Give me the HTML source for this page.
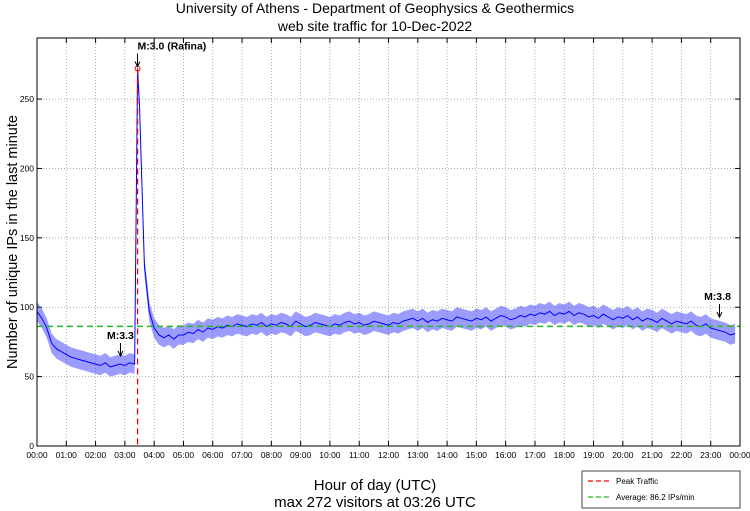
<!DOCTYPE html>
<html><head><meta charset="utf-8"><style>
body{margin:0;background:#fff;width:750px;height:511px;overflow:hidden;font-family:"Liberation Sans",sans-serif}
svg{display:block}
</style></head><body>
<svg id="c" width="750" height="511" font-family="Liberation Sans, sans-serif"></svg>
<script>
const hourLabels=["00:00","01:00","02:00","03:00","04:00","05:00","06:00","07:00","08:00","09:00","10:00","11:00","12:00","13:00","14:00","15:00","16:00","17:00","18:00","19:00","20:00","21:00","22:00","23:00","00:00"];
const yTicks=[0,50,100,150,200,250];
// visitors per 10-minute step starting 00:00 (6 per hour)
const visitors=[
97,92,85,74,70,68,
66,64,63,62,61,60,
59,58,60,57,58,59,
58,60,59,245,130,97,
85,80,78,80,77,80,
80,82,81,84,82,85,
84,86,85,87,86,88,
87,86,88,87,89,86,
88,87,89,88,86,90,
88,86,87,89,88,87,
86,88,87,89,90,88,
89,87,88,90,89,88,
87,89,88,90,91,92,
90,92,89,91,90,92,
91,90,93,92,91,90,
92,91,93,90,92,94,
93,91,92,94,93,95,
94,96,95,97,94,96,
95,97,94,96,95,93,
94,92,95,93,91,93,
92,94,91,93,90,92,
91,89,92,90,88,90,
89,88,90,87,86,88,
85,84,83,82,80,81];
const peakHour=[3+26/60], peakValue=[272];
const averageValue=[86.2];
const events=[{label:"M:3.0 (Rafina)",h:3.43,v:272},{label:"M:3.3",h:2.85,v:62},{label:"M:3.8",h:23.3,v:90}];

const L=37,R=740,T=38,B=446,YMAX=294;
const xs=h=>L+(R-L)*h/24, ys=v=>B-(B-T)*v/YMAX;
const svg=document.getElementById('c');const NS="http://www.w3.org/2000/svg";
function mk(t,a,p){const e=document.createElementNS(NS,t);for(const k in a)e.setAttribute(k,a[k]);(p||svg).appendChild(e);return e;}
function txt(s,a,p){const e=mk('text',a,p);e.textContent=s;return e;}

let t=txt("University of Athens - Department of Geophysics & Geothermics",{x:375,y:13,"text-anchor":"middle","font-size":14});

t=txt("web site traffic for 10-Dec-2022",{x:375,y:31,"text-anchor":"middle","font-size":14});


mk('rect',{x:L,y:T,width:R-L,height:B-T,fill:'#fff',stroke:'none'});
hourLabels.forEach((lb,i)=>{const x=xs(i);
 if(i>0&&i<24){const g=mk('line',{x1:x,x2:x,y1:T,y2:B,stroke:'#999','stroke-dasharray':'1,2','stroke-width':0.8});
 }
 mk('line',{x1:x,x2:x,y1:B,y2:B-5,stroke:'#000'});mk('line',{x1:x,x2:x,y1:T,y2:T+5,stroke:'#000'});
 const e=txt(lb,{x:x,y:458,"text-anchor":"middle","font-size":8.5});
 });
yTicks.forEach(v=>{const y=ys(v);
 if(v>0){const g=mk('line',{x1:L,x2:R,y1:y,y2:y,stroke:'#999','stroke-dasharray':'1,2','stroke-width':0.8});
 }
 mk('line',{x1:L,x2:L+5,y1:y,y2:y,stroke:'#000'});mk('line',{x1:R,x2:R-5,y1:y,y2:y,stroke:'#000'});
 const e=txt(String(v),{x:L-3,y:y+3,"text-anchor":"end","font-size":8.5});
 });

const step=24/visitors.length;
let pts=visitors.map((v,i)=>[i*step,v]);pts.push([peakHour[0],peakValue[0]]);
pts.sort((a,b)=>a[0]-b[0]);
let up=pts.map(p=>xs(p[0])+','+ys(p[1]+7)).join(' ');
let dn=pts.map(p=>xs(p[0])+','+ys(p[1]-7)).reverse().join(' ');
let band=mk('polygon',{points:up+' '+dn,fill:'#3a3aff','fill-opacity':0.5,stroke:'none'});

let line=mk('polyline',{points:pts.map(p=>xs(p[0])+','+ys(p[1])).join(' '),fill:'none',stroke:'#0000ff','stroke-width':1});


let av=mk('line',{x1:L,x2:R,y1:ys(averageValue[0]),y2:ys(averageValue[0]),stroke:'#22bb22','stroke-width':1.5,'stroke-dasharray':'6,4'});

let pk=mk('line',{x1:xs(peakHour[0]),x2:xs(peakHour[0]),y1:ys(peakValue[0]),y2:B,stroke:'#ee0000','stroke-width':1.3,'stroke-dasharray':'6,4'});

let pc=mk('circle',{cx:xs(peakHour[0]),cy:ys(peakValue[0]),r:2.5,fill:'none',stroke:'#ee0000'});


events.forEach((ev,i)=>{const x=xs(ev.h),y=ys(ev.v)-(i==0?2:4);
 const g=mk('g',{});
 mk('line',{x1:x,x2:x,y1:y-13,y2:y,stroke:'#000'},g);
 mk('path',{d:`M${x-2.5},${y-5} L${x},${y} L${x+2.5},${y-5}`,fill:'none',stroke:'#000'},g);
 txt(ev.label,{x:i==2?x-2:x,y:y-17,"text-anchor":i==0?"start":"middle","font-size":10.5,"font-weight":"bold"},g);});

let fr=mk('rect',{x:L,y:T,width:R-L,height:B-T,fill:'none',stroke:'#000'});


t=txt("Number of unique IPs in the last minute",{x:0,y:0,"text-anchor":"middle","font-size":14.5,transform:"translate(17,242) rotate(-90)"});

t=txt("Hour of day (UTC)",{x:375,y:490,"text-anchor":"middle","font-size":15});

t=txt("max 272 visitors at 03:26 UTC",{x:375,y:507,"text-anchor":"middle","font-size":15});


const lg=mk('g',{});
mk('rect',{x:582,y:471,width:158,height:37,fill:'#fff',stroke:'#444'},lg);
mk('line',{x1:588,x2:612,y1:481,y2:481,stroke:'#ee0000','stroke-width':1.3,'stroke-dasharray':'5,3'},lg);
txt("Peak Traffic",{x:616,y:484,"font-size":8},lg);
mk('line',{x1:588,x2:612,y1:497,y2:497,stroke:'#22bb22','stroke-width':1.3,'stroke-dasharray':'5,3'},lg);
txt("Average: 86.2 IPs/min",{x:616,y:500,"font-size":8},lg);
</script>
</body></html>
